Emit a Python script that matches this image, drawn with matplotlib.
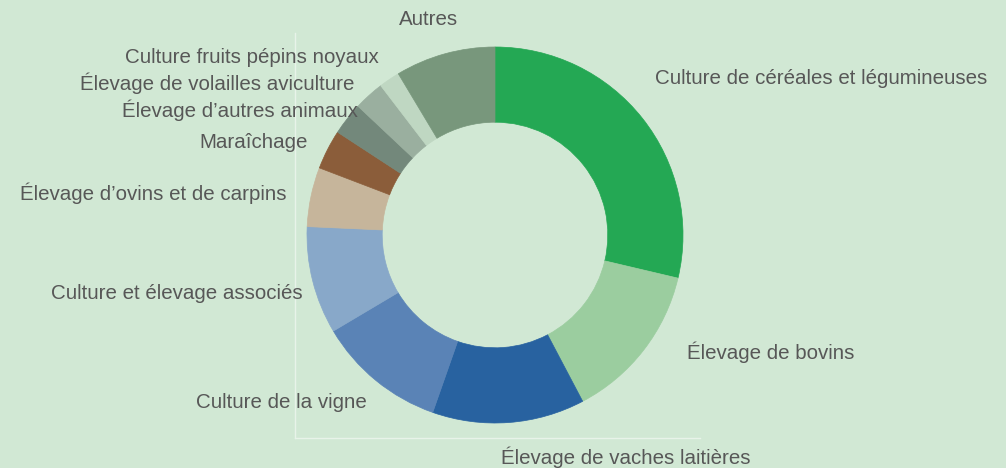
import numpy as np
import matplotlib
matplotlib.use("Agg")
from matplotlib import pyplot as plt

plt.rcParams['font.family'] = ['Liberation Sans', 'DejaVu Sans']

labels = ["Culture de céréales et légumineuses", "Élevage de bovins",
          "Élevage de vaches laitières", "Culture de la vigne",
          "Culture et élevage associés", "Élevage d’ovins et de carpins",
          "Maraîchage", "Élevage d’autres animaux",
          "Élevage de volailles aviculture", "Culture fruits pépins noyaux",
          "Autres"]
values = [28.7, 13.6, 13.1, 11.1, 9.25, 5.1, 3.4, 2.8, 2.6, 1.8, 8.6]
colors = ["#24a854", "#9bcd9f", "#2862a0", "#5a83b6", "#88a8c9", "#c6b59b",
          "#8b5d3a", "#73887b", "#9aaf9f", "#bfd7c2", "#78977c"]

# label placement (radius in pie units, angle nudge in degrees, alignment)
label_r = [1.19, 1.20, 1.18, 1.12, 1.07, 1.13, 1.11, 0.985, 1.10, 1.13, 1.20]
label_da = [6.1, 6.3, -2.8, 1.8, 2.8, 0.5, 0.6, -4.0, 0.6, -0.9, 1.8]
label_ha = ["left", "left", "left", "right", "right", "right", "right",
            "right", "right", "right", "center"]

bg = "#d1e8d4"
W, H = 1006, 468
cx, cy, rpx = 495, 235, 188

fig = plt.figure(figsize=(W / 100, H / 100), dpi=100, facecolor=bg)

# faint frame lines behind the donut
fr = fig.add_axes([294.7 / W, (H - 438) / H, (700 - 294.7) / W, (438 - 33) / H])
fr.set_facecolor("none")
for s in ["top", "right"]:
    fr.spines[s].set_visible(False)
for s in ["left", "bottom"]:
    fr.spines[s].set_color("#e8f3e9")
    fr.spines[s].set_linewidth(1)
fr.set_xticks([])
fr.set_yticks([])

ax = fig.add_axes([0, 0, 1, 1])
ax.set_facecolor("none")
wedges, _ = ax.pie(values, colors=colors, startangle=90, counterclock=False,
                   radius=1, wedgeprops=dict(width=0.4, linewidth=0.5))
for w, c in zip(wedges, colors):
    w.set_edgecolor(c)

for w, lab, r, da, ha in zip(wedges, labels, label_r, label_da, label_ha):
    mid = np.deg2rad((w.theta1 + w.theta2) / 2 + da)
    ax.text(r * np.cos(mid), r * np.sin(mid), lab, ha=ha, va="center",
            fontsize=14.8, color="#575757")

ax.set_xlim(-cx / rpx, (W - cx) / rpx)
ax.set_ylim(-(H - cy) / rpx, cy / rpx)
ax.axis("off")

fig.savefig("out.png", dpi=100, facecolor=bg)
